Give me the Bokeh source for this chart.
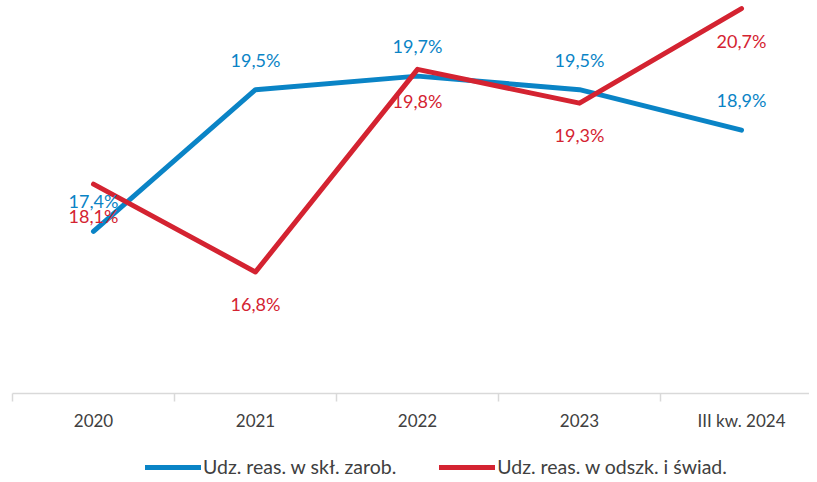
from bokeh.plotting import figure
from bokeh.models import ColumnDataSource, FixedTicker, Legend, LegendItem, Range1d
from bokeh.layouts import column
from bokeh.core.properties import value
from bokeh.embed import file_html
from bokeh.resources import INLINE

categories = ["2020", "2021", "2022", "2023", "III kw. 2024"]
blue_vals = [17.4, 19.5, 19.7, 19.5, 18.9]
red_vals = [18.1, 16.8, 19.8, 19.3, 20.7]
blue_name = "Udz. reas. w skł. zarob."
red_name = "Udz. reas. w odszk. i świad."

BLUE = "#0A84C6"
RED = "#D42331"
FONT = "Lato"

xs = list(range(len(categories)))

def fmt(v):
    return f"{v:.1f}".replace(".", ",") + "%"

src_b = ColumnDataSource(dict(x=xs, y=blue_vals, t=[fmt(v) for v in blue_vals]))
src_r = ColumnDataSource(dict(x=xs, y=red_vals, t=[fmt(v) for v in red_vals]))

p = figure(width=809, height=456, output_backend="svg", toolbar_location=None,
           x_range=Range1d(-0.5, -0.5 + 797 / 162), y_range=Range1d(15, 20.82),
           min_border_left=12, min_border_right=0, min_border_top=0, min_border_bottom=63)
p.outline_line_color = None
p.grid.visible = False
p.yaxis.visible = False

xa = p.xaxis[0]
xa.ticker = FixedTicker(ticks=xs, minor_ticks=[i - 0.5 for i in range(len(categories) + 1)])
xa.major_label_overrides = {i: c for i, c in enumerate(categories)}
xa.axis_line_color = "#D9D9D9"
xa.axis_line_width = 1.5
xa.major_tick_line_color = None
xa.minor_tick_line_color = "#D9D9D9"
xa.minor_tick_line_width = 1.5
xa.minor_tick_in = 0
xa.minor_tick_out = 8
xa.major_label_standoff = 8
xa.major_label_text_font = FONT
xa.major_label_text_font_size = "17px"
xa.major_label_text_color = "#404040"

p.line("x", "y", source=src_b, line_color=BLUE, line_width=5, line_cap="round", line_join="round")
p.line("x", "y", source=src_r, line_color=RED, line_width=5, line_cap="round", line_join="round")

p.text("x", "y", text="t", source=src_b, text_color=BLUE, text_font=value(FONT),
       text_font_size="18px", text_align="center", text_baseline="middle", y_offset=-30)
p.text("x", "y", text="t", source=src_r, text_color=RED, text_font=value(FONT),
       text_font_size="18px", text_align="center", text_baseline="middle", y_offset=32)

# legend strip
nan = float("nan")
p2 = figure(width=809, height=26, output_backend="svg", toolbar_location=None,
            x_range=Range1d(0, 1), y_range=Range1d(0, 1),
            min_border_left=0, min_border_right=0, min_border_top=0, min_border_bottom=0)
p2.outline_line_color = None
p2.grid.visible = False
p2.axis.visible = False
lb = p2.line(x=[nan], y=[nan], line_color=BLUE, line_width=5, line_cap="round")
lr = p2.line(x=[nan], y=[nan], line_color=RED, line_width=5, line_cap="round")

legend = Legend(items=[LegendItem(label=blue_name, renderers=[lb]),
                       LegendItem(label=red_name, renderers=[lr])],
                orientation="horizontal", location=(133, 4),
                glyph_width=56, glyph_height=16, label_height=16, label_standoff=2,
                spacing=43, padding=0, margin=0, border_line_color=None,
                background_fill_alpha=0,
                label_text_font=FONT, label_text_font_size="19.5px", label_text_color="#404040")
p2.add_layout(legend)

layout = column(p, p2, spacing=0)
open("out.html", "w").write(file_html(layout, INLINE))
